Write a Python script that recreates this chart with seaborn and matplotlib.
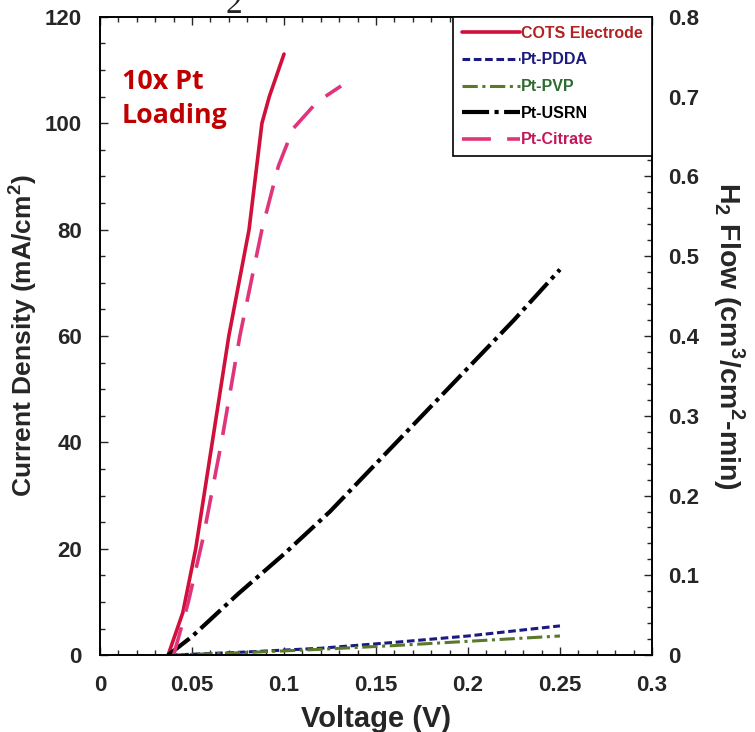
import matplotlib
matplotlib.use('Agg')
import matplotlib.pyplot as plt
import seaborn as sns
import pandas as pd
from matplotlib.ticker import MultipleLocator

sns.set_style('ticks')
plt.rcParams['font.family'] = ['Liberation Sans', 'DejaVu Sans']
plt.rcParams['mathtext.fontset'] = 'custom'
plt.rcParams['mathtext.rm'] = 'Liberation Sans:bold'
plt.rcParams['mathtext.bf'] = 'Liberation Sans:bold'

# Datos (voltaje en V, densidad de corriente en mA/cm2)
series = ['COTS Electrode', 'Pt-PDDA', 'Pt-PVP', 'Pt-USRN', 'Pt-Citrate']

v_cots = [0.037, 0.045, 0.052, 0.061, 0.070, 0.081, 0.088, 0.092, 0.100]
j_cots = [0, 8, 20, 40, 60, 80, 100, 105, 113]

v_pdda = [0.038, 0.08, 0.12, 0.16, 0.20, 0.25]
j_pdda = [0, 0.6, 1.3, 2.4, 3.6, 5.5]

v_pvp = [0.038, 0.08, 0.12, 0.16, 0.20, 0.25]
j_pvp = [0, 0.5, 1.1, 1.8, 2.6, 3.6]

v_usrn = [0.037, 0.05, 0.075, 0.10, 0.125, 0.15, 0.175, 0.20, 0.225, 0.25]
j_usrn = [0, 3.5, 11.5, 19, 27, 36, 45, 54, 63, 72.5]

v_cit = [0.040, 0.048, 0.056, 0.066, 0.076, 0.088, 0.097, 0.105, 0.118, 0.131]
j_cit = [0, 10, 22, 40, 60, 80, 92, 99, 104, 107]

line_colors = {'COTS Electrode': '#D0103A', 'Pt-PDDA': '#1A1A80', 'Pt-PVP': '#5A7A2A',
               'Pt-USRN': '#000000', 'Pt-Citrate': '#E0357A'}
text_colors = ['#B22222', '#1A1A80', '#2E6B30', '#000000', '#C2185B']
dash_styles = {'COTS Electrode': '', 'Pt-PDDA': (2.5, 1.2), 'Pt-PVP': (5, 1.5, 1, 1.5),
               'Pt-USRN': (6.5, 1.3, 1, 1.3), 'Pt-Citrate': (8, 4.5)}
widths = {'COTS Electrode': 2.6, 'Pt-PDDA': 2.2, 'Pt-PVP': 2.2, 'Pt-USRN': 3.0, 'Pt-Citrate': 2.6}

df = pd.concat([
    pd.DataFrame({'V': v_cots, 'J': j_cots, 'series': 'COTS Electrode'}),
    pd.DataFrame({'V': v_pdda, 'J': j_pdda, 'series': 'Pt-PDDA'}),
    pd.DataFrame({'V': v_pvp, 'J': j_pvp, 'series': 'Pt-PVP'}),
    pd.DataFrame({'V': v_usrn, 'J': j_usrn, 'series': 'Pt-USRN'}),
    pd.DataFrame({'V': v_cit, 'J': j_cit, 'series': 'Pt-Citrate'}),
])

fig = plt.figure(figsize=(7.55, 7.32), dpi=100)
ax = fig.add_axes([0.1325, 0.105, 0.731, 0.872])

sns.lineplot(data=df, x='V', y='J', hue='series', style='series', hue_order=series,
             style_order=series, palette=line_colors, dashes=dash_styles,
             sort=False, estimator=None, legend=False, ax=ax)
for ln, s in zip(ax.get_lines(), series):
    ln.set_linewidth(widths[s])

ax.set_xlim(0, 0.3)
ax.set_ylim(0, 120)
ax.xaxis.set_minor_locator(MultipleLocator(0.01))
ax.yaxis.set_major_locator(MultipleLocator(20))
ax.yaxis.set_minor_locator(MultipleLocator(5))
ax.set_xticks([0, 0.05, 0.1, 0.15, 0.2, 0.25, 0.3])
ax.set_xticklabels(['0', '0.05', '0.1', '0.15', '0.2', '0.25', '0.3'])
ax.tick_params(which='both', direction='in', top=True, right=False, labelsize=16, width=1)
ax.tick_params(which='major', length=6)
ax.tick_params(which='minor', length=3.5)
ax.tick_params(axis='x', which='major', pad=14)
ax.tick_params(axis='y', which='major', pad=13)
for lab in ax.get_xticklabels() + ax.get_yticklabels():
    lab.set_fontweight('bold')
ax.set_xlabel('Voltage (V)', fontsize=21, fontweight='bold', labelpad=7)
ax.set_ylabel('Current Density (mA/cm$^{\\mathbf{2}}$)', fontsize=19, fontweight='bold', labelpad=4)

ax2 = ax.twinx()
ax2.set_ylim(0, 0.8)
ax2.yaxis.set_minor_locator(MultipleLocator(0.02))
ax2.set_yticks([0, 0.1, 0.2, 0.3, 0.4, 0.5, 0.6, 0.7, 0.8])
ax2.set_yticklabels(['0', '0.1', '0.2', '0.3', '0.4', '0.5', '0.6', '0.7', '0.8'])
ax2.tick_params(which='both', direction='in', labelsize=16, width=1)
ax2.tick_params(which='major', length=6, pad=12)
ax2.tick_params(which='minor', length=3.5)
for lab in ax2.get_yticklabels():
    lab.set_fontweight('bold')
ax2.set_ylabel('H$_{\\mathbf{2}}$ Flow (cm$^{\\mathbf{3}}$/cm$^{\\mathbf{2}}$-min)', fontsize=20.5,
               fontweight='bold', rotation=270, labelpad=34)

for a in (ax, ax2):
    for sp in a.spines.values():
        sp.set_color('black')
        sp.set_linewidth(1.2)

leg = ax2.legend(ax.get_lines(), series, loc='upper right', bbox_to_anchor=(1, 1),
                 borderaxespad=0, frameon=True, fancybox=False, edgecolor='black',
                 framealpha=1, prop={'family': 'Liberation Sans', 'weight': 'bold', 'size': 11.5},
                 handlelength=3.6, labelspacing=0.73, borderpad=0.56, handletextpad=0.1)
leg.get_frame().set_linewidth(1.2)
for t, c in zip(leg.get_texts(), text_colors):
    t.set_color(c)

ax.text(0.04, 0.919, '10x Pt\nLoading', transform=ax.transAxes, ha='left', va='top',
        fontsize=19.3, fontweight='bold', color='#C00000', family='Open Sans', linespacing=1.4)

fig.text(0.31, 0.982, '2', ha='center', va='baseline', fontsize=24, family='Liberation Serif')

fig.savefig('out.png', dpi=100)
